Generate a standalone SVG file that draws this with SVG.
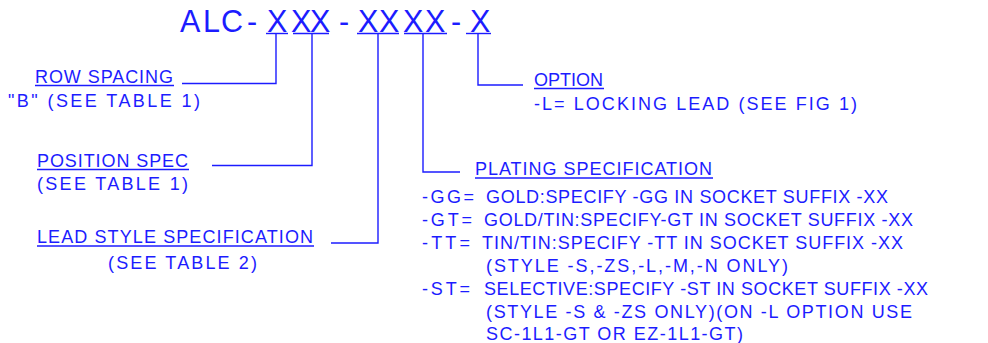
<svg xmlns="http://www.w3.org/2000/svg" width="988" height="343" viewBox="0 0 988 343">
<style>
text{font-family:"Liberation Sans",Arial,sans-serif;fill:#1c1cff;font-size:18px}
.t{font-size:30.5px}
line,polyline{stroke:#1c1cff;stroke-width:1.4;fill:none}
</style>
<rect width="988" height="343" fill="#fff"/>
<g id="title">
<text class="t" x="180 203 221 247 267 291 310 339 358 379 403 425 451 470" y="32">ALC-XXX-XXXX-X</text>
<line x1="266" y1="33.5" x2="288" y2="33.5"/>
<line x1="293" y1="33.5" x2="329" y2="33.5"/>
<line x1="357" y1="33.5" x2="399" y2="33.5"/>
<line x1="404" y1="33.5" x2="447" y2="33.5"/>
<line x1="466" y1="33.5" x2="491" y2="33.5"/>
</g>
<g id="connectors">
<polyline points="276,34 276,83.5 182,83.5"/>
<polyline points="312,34 312,165.5 212,165.5"/>
<polyline points="378,34 378,243 331,243"/>
<polyline points="423,34 423,172 460,172"/>
<polyline points="478,34 478,85 523,85"/>
</g>
<g id="row-spacing">
<text x="35" y="83" textLength="138" lengthAdjust="spacing">ROW SPACING</text>
<line x1="35" y1="85.5" x2="174" y2="85.5"/>
<text x="8" y="107" textLength="192" lengthAdjust="spacing">"B" (SEE TABLE 1)</text>
</g>
<g id="position-spec">
<text x="37" y="167" textLength="151" lengthAdjust="spacing">POSITION SPEC</text>
<line x1="37" y1="169.5" x2="189" y2="169.5"/>
<text x="37" y="190" textLength="151" lengthAdjust="spacing">(SEE TABLE 1)</text>
</g>
<g id="lead-style">
<text x="37" y="243" textLength="276" lengthAdjust="spacing">LEAD STYLE SPECIFICATION</text>
<line x1="37" y1="246" x2="314" y2="246"/>
<text x="108" y="269" textLength="149" lengthAdjust="spacing">(SEE TABLE 2)</text>
</g>
<g id="option">
<text x="534" y="86" textLength="69" lengthAdjust="spacing">OPTION</text>
<line x1="534" y1="88.5" x2="604" y2="88.5"/>
<text x="534" y="110" textLength="323" lengthAdjust="spacing">-L= LOCKING LEAD (SEE FIG 1)</text>
</g>
<g id="plating">
<text x="475" y="175" textLength="237" lengthAdjust="spacing">PLATING SPECIFICATION</text>
<line x1="475" y1="178" x2="713" y2="178"/>
<text x="422" y="203" textLength="52" lengthAdjust="spacing">-GG=</text>
<text x="486" y="203" textLength="402" lengthAdjust="spacing">GOLD:SPECIFY -GG IN SOCKET SUFFIX -XX</text>
<text x="422" y="226" textLength="50" lengthAdjust="spacing">-GT=</text>
<text x="484" y="226" textLength="429" lengthAdjust="spacing">GOLD/TIN:SPECIFY-GT IN SOCKET SUFFIX -XX</text>
<text x="422" y="249" textLength="48" lengthAdjust="spacing">-TT=</text>
<text x="482" y="249" textLength="421" lengthAdjust="spacing">TIN/TIN:SPECIFY -TT IN SOCKET SUFFIX -XX</text>
<text x="486" y="272" textLength="302" lengthAdjust="spacing">(STYLE -S,-ZS,-L,-M,-N ONLY)</text>
<text x="422" y="295" textLength="48" lengthAdjust="spacing">-ST=</text>
<text x="484" y="295" textLength="444" lengthAdjust="spacing">SELECTIVE:SPECIFY -ST IN SOCKET SUFFIX -XX</text>
<text x="486" y="318" textLength="426" lengthAdjust="spacing">(STYLE -S &amp; -ZS ONLY)(ON -L OPTION USE</text>
<text x="486" y="340" textLength="257" lengthAdjust="spacing">SC-1L1-GT OR EZ-1L1-GT)</text>
</g>
</svg>
